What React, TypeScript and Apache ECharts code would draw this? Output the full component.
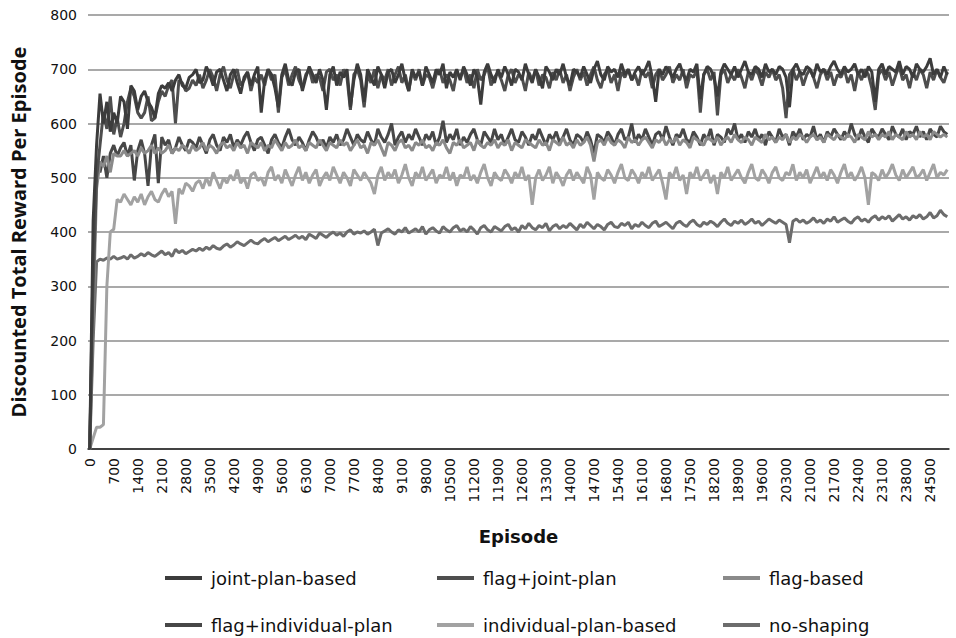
import React, { useEffect, useRef } from "react";
import * as echarts from "echarts";

const EPISODES: string[] = Array.from({ length: 251 }, (_, i) => String(i * 100));

const SERIES_NAMES = [
  "joint-plan-based",
  "flag+joint-plan",
  "flag-based",
  "flag+individual-plan",
  "individual-plan-based",
  "no-shaping",
];

const jointPlanBased = [
  0, 420, 560, 655, 600, 640, 585, 620, 600, 650,
  640, 590, 670, 660, 625, 650, 660, 640, 630, 610,
  655, 670, 665, 675, 660, 680, 690, 670, 665, 685,
  690, 700, 675, 680, 705, 690, 670, 695, 700, 680,
  660, 690, 700, 675, 655, 685, 695, 670, 690, 705,
  620, 680, 700, 690, 665, 630, 690, 710, 680, 670,
  695, 700, 660, 685, 705, 690, 675, 700, 680, 625,
  690, 705, 670, 695, 685, 700, 630, 680, 710, 690,
  640, 700, 685, 670, 705, 690, 665, 695, 700, 675,
  690, 710, 680, 660, 700, 685, 695, 670, 705, 690,
  675, 700, 690, 710, 665, 695, 685, 700, 680, 705,
  690, 670, 700, 685, 635, 695, 710, 690, 675, 700,
  685, 705, 690, 670, 700, 695, 680, 710, 690, 675,
  700, 685, 665, 705, 695, 680, 700, 690, 710, 685,
  670, 700, 695, 685, 705, 690, 675, 700, 715, 690,
  680, 705, 695, 700, 685, 710, 690, 700, 680, 695,
  705, 690, 700, 715, 685, 640, 700, 690, 705, 695,
  685, 700, 710, 690, 680, 700, 695, 710, 645, 690,
  705, 700, 685, 650, 695, 710, 700, 690, 705, 685,
  700, 715, 695, 690, 705, 700, 685, 710, 695, 700,
  690, 705, 700, 685, 630, 700, 710, 695, 690, 705,
  700, 685, 710, 695, 700, 690, 705, 715, 700, 690,
  705, 695, 700, 710, 690, 700, 685, 705, 695, 640,
  700, 710, 690, 705, 700, 695, 715, 690, 705, 700,
  685, 710, 700, 695, 705, 720, 690, 700, 685, 705,
  690,
];

const flagJointPlan = [
  0, 300, 500, 560, 620, 590, 650, 580, 610, 575,
  600, 640, 665, 650, 620, 610, 620, 650, 605, 610,
  640, 660, 650, 670, 680, 600, 680, 675, 660, 665,
  680, 670, 690, 665, 680, 700, 685, 660, 690, 705,
  680, 665, 690, 700, 670, 680, 695, 660, 685, 675,
  690, 670, 700, 680, 690, 620, 685, 700, 670, 690,
  705, 680, 665, 690, 700, 675, 690, 685, 660, 695,
  700, 680, 690, 670, 700, 685, 625, 690, 700, 680,
  630, 690, 675, 700, 665, 690, 680, 700, 670, 690,
  705, 675, 690, 660, 695, 680, 700, 670, 690, 685,
  665, 690, 700, 675, 690, 680, 660, 695, 685, 700,
  675, 690, 665, 700, 680, 690, 705, 670, 685, 695,
  680, 660, 690, 700, 675, 690, 685, 660, 695, 680,
  700, 670, 690, 685, 665, 695, 680, 700, 675, 690,
  660, 685, 700, 680, 695, 670, 690, 705, 680, 665,
  690, 700, 675, 690, 660, 695, 685, 700, 680, 690,
  670, 700, 685, 695, 665, 690, 700, 680, 690, 705,
  675, 690, 680, 700, 665, 690, 685, 700, 620, 690,
  700, 680, 695, 615, 690, 700, 675, 690, 680, 700,
  685, 665, 695, 680, 700, 690, 670, 695, 685, 700,
  680, 690, 665, 610, 690, 700, 680, 695, 670, 690,
  700, 685, 665, 690, 700, 680, 695, 670, 690, 685,
  700, 675, 690, 660, 695, 680, 700, 690, 665, 625,
  690, 700, 680, 695, 670, 690, 705, 680, 690, 665,
  695, 680, 700, 690, 665, 695, 680, 700, 685, 675,
  695,
];

const flagBased = [
  0, 250, 480, 530, 520, 540, 510, 545, 540, 540,
  550, 540, 545, 550, 540, 555, 545, 550, 560, 545,
  555, 545, 550, 560, 545, 555, 550, 560, 555, 545,
  560, 550, 555, 565, 550, 560, 555, 545, 560, 565,
  555, 560, 550, 565, 555, 560, 545, 565, 560, 555,
  565, 550, 560, 555, 570, 560, 550, 565, 555, 560,
  570, 555, 560, 550, 565, 560, 555, 570, 560, 550,
  565, 560, 555, 570, 560, 565, 550, 560, 570, 555,
  560, 545, 565, 560, 570, 555, 540, 565, 560, 550,
  565, 570, 555, 560, 550, 565, 560, 570, 555, 560,
  550, 565, 560, 570, 555, 545, 565, 560, 570, 555,
  560, 565, 550, 570, 560, 555, 565, 560, 570, 555,
  565, 560, 570, 550, 565, 560, 555, 570, 565, 560,
  555, 570, 560, 565, 550, 570, 565, 560, 575, 560,
  565, 555, 570, 560, 565, 575, 560, 530, 565, 570,
  560, 575, 565, 560, 570, 565, 555, 575, 565, 570,
  560, 570, 575, 565, 555, 570, 565, 575, 560, 570,
  565, 575, 560, 570, 565, 555, 575, 570, 565, 560,
  575, 570, 565, 575, 560, 570, 575, 565, 580, 570,
  565, 575, 570, 560, 575, 570, 565, 580, 570, 575,
  565, 575, 570, 580, 565, 575, 570, 580, 575, 565,
  575, 580, 570, 575, 565, 580, 575, 570, 580, 575,
  570, 580, 575, 565, 580, 575, 570, 585, 575, 580,
  570, 580, 575, 585, 570, 580, 575, 570, 585, 575,
  580, 570, 585, 575, 580, 570, 585, 580, 575, 580,
  575,
];

const flagIndividualPlan = [
  0, 350, 530, 510, 540, 500, 545, 560, 540, 555,
  565, 540, 560, 495, 550, 570, 545, 485, 560, 580,
  490, 575, 560, 570, 545, 555, 575, 560, 550, 570,
  565, 555, 575, 560, 545, 570, 580, 560, 550, 575,
  565, 580, 555, 570, 560, 575, 585, 565, 550, 570,
  575, 560, 545, 570, 580, 565, 555, 575, 590, 570,
  560, 575, 565, 550, 570, 585, 575, 560, 570, 555,
  575, 565, 580, 560, 570, 590, 575, 560, 580, 570,
  565, 585, 570, 560, 590, 575, 565, 580, 600, 560,
  575, 585, 565, 580, 570, 590, 575, 560, 580, 570,
  585, 560, 575, 605, 565, 580, 570, 590, 560, 575,
  565, 580, 590, 570, 560, 585, 575, 565, 590, 570,
  580, 560, 575, 590, 570, 565, 585, 575, 560, 580,
  570, 590, 575, 560, 580, 570, 585, 565, 575, 590,
  570, 560, 580, 575, 565, 585, 570, 545, 580, 575,
  565, 585, 575, 560, 580, 590, 570, 575, 600, 565,
  580, 570, 590, 575, 560, 580, 585, 570, 595, 575,
  560, 580, 575, 590, 570, 565, 585, 575, 560, 580,
  570, 590, 560, 580, 575, 565, 590, 580, 600, 570,
  580, 565, 585, 575, 590, 570, 580, 560, 585, 575,
  565, 590, 575, 580, 560, 585, 575, 590, 570, 580,
  575, 595, 570, 580, 565, 585, 575, 590, 580, 570,
  585, 575, 600, 580, 570, 590, 575, 565, 590, 580,
  575, 590, 580, 570, 595, 580, 575, 590, 570, 585,
  580, 595, 575, 585, 570, 590, 580, 575, 595, 585,
  580,
];

const individualPlanBased = [
  0, 20, 40, 40, 45, 300, 400, 405, 460, 455,
  470, 460, 450, 465, 455, 470, 450, 465, 475, 460,
  455, 470, 480, 465, 475, 415, 480, 470, 490, 485,
  475, 490, 495, 480, 500, 485, 510, 495, 480, 500,
  490, 505, 495, 515, 490, 500, 480, 505, 510, 495,
  500, 485, 510, 520, 495, 505, 490, 515, 500, 485,
  505, 520, 495, 510, 490, 505, 515, 485, 500, 510,
  495, 520, 505, 490, 510, 500, 485, 515, 505, 495,
  510, 500, 490, 470, 505, 520, 495, 510, 500, 515,
  490, 505, 525, 500, 485, 510, 500, 520, 495, 505,
  515, 490, 505, 500, 520, 495, 510, 485, 505, 500,
  520, 495, 505, 490, 510, 525, 500, 485, 510, 500,
  495, 515, 505, 490, 510, 500, 520, 495, 505, 450,
  500, 515, 495, 505, 520, 490, 510, 500, 485, 505,
  515, 495, 510, 500, 490, 520, 505, 460, 510, 500,
  495, 515, 505, 490, 510, 525, 500, 495, 515, 505,
  490, 510, 500, 520, 495, 505, 515, 490, 460, 510,
  500, 520, 495, 505, 470, 510, 500, 520, 495, 505,
  515, 490, 505, 470, 510, 500, 520, 495, 505, 515,
  500, 490, 510, 525, 500, 495, 515, 505, 490, 510,
  520, 500, 495, 510, 505, 525, 495, 510, 500, 515,
  490, 505, 520, 500, 510, 495, 515, 505, 490, 510,
  525, 500, 510, 495, 505, 520, 500, 450, 510, 505,
  495, 515, 500, 510, 525, 505, 495, 515, 500, 510,
  520, 500, 505, 515, 495, 510, 525, 500, 510, 505,
  515,
];

const noShaping = [
  0, 200, 345, 350, 348, 352, 350, 355, 350, 352,
  355, 350, 358, 352, 355, 360, 356, 362, 358, 355,
  360, 365, 358, 362, 355, 368, 362, 366, 360, 364,
  368, 365, 370, 366, 372, 368, 375, 370, 368, 374,
  378, 372, 376, 382, 378, 375, 380, 385, 380, 378,
  384, 388, 382, 386, 390, 384, 388, 392, 386, 390,
  394, 388, 392, 386, 396, 392, 388, 398, 394, 390,
  396, 400, 394, 398, 392, 400, 404, 396, 400, 398,
  402, 396, 400, 405, 375, 398, 402, 406, 400, 396,
  404, 400, 408, 398, 402, 406, 400, 410, 396, 404,
  408, 402, 398, 410, 404, 400, 408, 412, 402, 406,
  400, 410, 404, 396, 408, 412, 404, 400, 410, 406,
  402, 410, 414, 404, 408, 400, 412, 406, 416, 408,
  404, 412, 408, 416, 402, 410, 414, 406, 412, 408,
  416, 410, 404, 414, 408, 418, 412, 406, 414, 410,
  404, 414, 418, 410, 408, 416, 412, 418, 406, 414,
  410, 418, 412, 408, 416, 420, 410, 414, 418, 412,
  406, 416, 420, 414, 410, 418, 422, 414, 410, 418,
  414, 420, 416, 410, 418, 424, 416, 412, 420, 416,
  422, 414, 418, 424, 416, 420, 412, 418, 424, 420,
  416, 422, 418, 414, 380, 420, 424, 418, 422, 416,
  420, 426, 418, 422, 416, 424, 420, 428, 418, 422,
  426, 420, 416, 424, 428, 420, 424, 418, 426, 430,
  422, 428, 424, 430, 420, 426, 432, 424, 428, 422,
  430, 426, 432, 424, 428, 436, 426, 430, 440, 432,
  428,
];

const SERIES_DATA = [
  jointPlanBased,
  flagJointPlan,
  flagBased,
  flagIndividualPlan,
  individualPlanBased,
  noShaping,
];

const COLORS = ["#3c3c3c", "#4e4e4e", "#8a8a8a", "#474747", "#a2a2a2", "#6c6c6c"];

const LEGEND_POS = [
  { left: 160, top: 564 },
  { left: 432, top: 564 },
  { left: 718, top: 564 },
  { left: 160, top: 611 },
  { left: 432, top: 611 },
  { left: 718, top: 611 },
];

export default function App() {
  const ref = useRef<HTMLDivElement>(null);

  useEffect(() => {
    if (!ref.current) return;
    const chart = echarts.init(ref.current, undefined, { renderer: "svg" });
    const option: any = {
      animation: false,
      backgroundColor: "#ffffff",
      grid: { left: 88, right: 7, top: 15, bottom: 189, containLabel: false },
      legend: SERIES_NAMES.map((name, i) => ({
        data: [name],
        left: LEGEND_POS[i].left,
        top: LEGEND_POS[i].top,
        icon: "rect",
        itemWidth: 37,
        itemHeight: 4,
        textStyle: {
          fontFamily: "DejaVu Sans",
          fontSize: 18,
          color: "#111",
          padding: [0, 0, 0, 4],
        },
      })),
      xAxis: {
        type: "category",
        data: EPISODES,
        boundaryGap: true,
        name: "Episode",
        nameLocation: "middle",
        nameGap: 78,
        nameTextStyle: { fontFamily: "DejaVu Sans", fontWeight: "bold", fontSize: 18, color: "#111" },
        axisLine: { show: true, lineStyle: { color: "#222", width: 1.5 } },
        axisTick: { show: false },
        axisLabel: {
          interval: 6,
          rotate: 90,
          margin: 9,
          fontFamily: "DejaVu Sans",
          fontSize: 14,
          color: "#111",
        },
        splitLine: { show: false },
      },
      yAxis: {
        type: "value",
        min: 0,
        max: 800,
        interval: 100,
        name: "Discounted Total Reward Per Episode",
        nameLocation: "middle",
        nameGap: 60,
        nameTextStyle: { fontFamily: "Open Sans", fontWeight: "bold", fontSize: 20, color: "#111" },
        axisLine: { show: false },
        axisTick: { show: false },
        axisLabel: { margin: 11, fontFamily: "DejaVu Sans", fontSize: 14, color: "#111" },
        splitLine: { show: true, lineStyle: { color: "#8c8c8c", width: 1.5 } },
      },
      series: SERIES_NAMES.map((name, i) => ({
        name,
        type: "line",
        data: SERIES_DATA[i],
        showSymbol: false,
        symbol: "none",
        color: COLORS[i],
        lineStyle: { width: 3, color: COLORS[i] },
        z: 10 - i,
      })),
    };
    chart.setOption(option);
    return () => chart.dispose();
  }, []);

  return (
    <div
      ref={ref}
      style={{ position: "absolute", left: 0, top: 0, width: 956, height: 638 }}
    />
  );
}
